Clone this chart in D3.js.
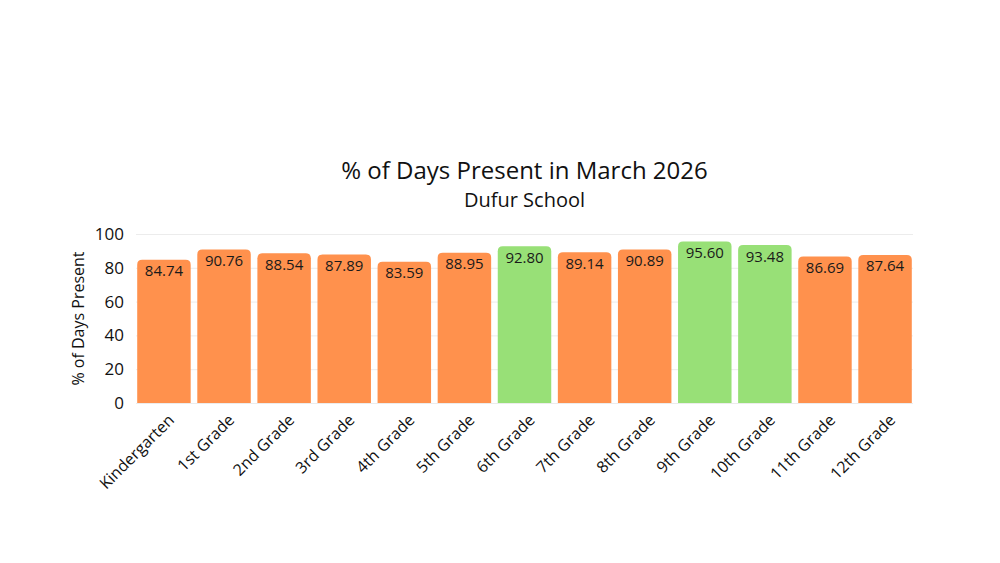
<!DOCTYPE html>
<html>
<head>
<meta charset="utf-8">
<title>% of Days Present in March 2026</title>
<script src="https://cdn.jsdelivr.net/npm/d3@7"></script>
<style>
body { margin: 0; background: #fff; font-family: "Open Sans", sans-serif; }
.grid line { stroke: #ececec; }
.grid .domain { display: none; }
</style>
</head>
<body>
<script>
var grades = ["Kindergarten", "1st Grade", "2nd Grade", "3rd Grade", "4th Grade", "5th Grade", "6th Grade",
	"7th Grade", "8th Grade", "9th Grade", "10th Grade", "11th Grade", "12th Grade"];
var present = [84.74, 90.76, 88.54, 87.89, 83.59, 88.95, 92.80, 89.14, 90.89, 95.60, 93.48, 86.69, 87.64];
var yTicks = [0, 20, 40, 60, 80, 100];

var w = 1000, h = 563;
var margin = {left: 136, right: 87, top: 234, bottom: 160};
var width = w - margin.left - margin.right;
var height = h - margin.top - margin.bottom;

var svg = d3.select("body").append("svg").attr("width", w).attr("height", h);
var g = svg.append("g").attr("transform", "translate(" + margin.left + "," + margin.top + ")");

var x = d3.scaleBand().domain(grades).range([0, width]).paddingInner(0.11).paddingOuter(0.02);
var y = d3.scaleLinear().domain([0, 100]).range([height, 0]);

// gridlines
g.append("g").attr("class", "grid")
	.call(d3.axisLeft(y).tickValues(yTicks).tickSize(-width).tickFormat(""));

// y tick labels
g.append("g").call(d3.axisLeft(y).tickValues(yTicks).tickSize(0).tickPadding(12))
	.call(function(a) {
		a.select(".domain").remove();
		a.selectAll("text").attr("font-size", 17).attr("font-family", "Open Sans").attr("fill", "#111");
	});

svg.append("text")
	.attr("transform", "translate(84," + (margin.top + height / 2) + ") rotate(-90)")
	.attr("text-anchor", "middle")
	.attr("font-size", 16)
	.attr("fill", "#111")
	.text("% of Days Present");

// bars
var good = function(d) { return d >= 92; };
g.selectAll("path.bar").data(present).enter().append("path")
	.attr("class", "bar")
	.attr("fill", function(d) { return good(d) ? "#98e077" : "#ff914d"; })
	.attr("d", function(d, i) {
		var x0 = x(grades[i]), bw = x.bandwidth(), y0 = y(d), r = 5;
		return "M" + x0 + "," + height + "V" + (y0 + r) + "Q" + x0 + "," + y0 + " " + (x0 + r) + "," + y0 +
			"H" + (x0 + bw - r) + "Q" + (x0 + bw) + "," + y0 + " " + (x0 + bw) + "," + (y0 + r) + "V" + height + "Z";
	});

// value labels
g.selectAll("text.val").data(present).enter().append("text")
	.attr("class", "val")
	.attr("x", function(d, i) { return x(grades[i]) + x.bandwidth() / 2; })
	.attr("y", function(d) { return y(d) + 16.5; })
	.attr("text-anchor", "middle")
	.attr("font-size", 15)
	.attr("fill", "#1a1a1a")
	.text(function(d) { return d.toFixed(2); });

// x labels
g.append("g").attr("transform", "translate(0," + height + ")")
	.call(d3.axisBottom(x).tickSize(0).tickPadding(12))
	.call(function(a) {
		a.select(".domain").remove();
		a.selectAll("text")
			.attr("font-size", 16)
			.attr("font-family", "Open Sans")
			.attr("fill", "#111")
			.attr("text-anchor", "end")
			.attr("transform", "rotate(-45)")
			.attr("dx", "-0.3em")
			.attr("dy", "0.55em");
	});

// titles
svg.append("text").attr("x", margin.left + width / 2).attr("y", 179)
	.attr("text-anchor", "middle").attr("font-size", 24).attr("fill", "#111")
	.text("% of Days Present in March 2026");
svg.append("text").attr("x", margin.left + width / 2).attr("y", 207)
	.attr("text-anchor", "middle").attr("font-size", 20).attr("fill", "#111")
	.text("Dufur School");
</script>
</body>
</html>
